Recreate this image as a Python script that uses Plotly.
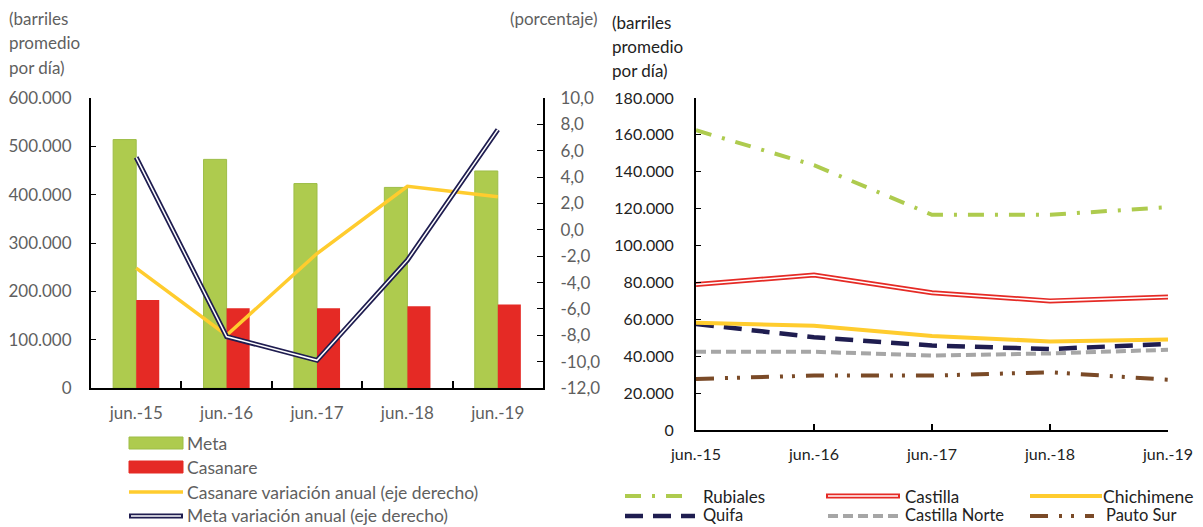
import plotly.graph_objects as go

W, H = 1203, 527

# ---------------- data ----------------
categories = ["jun.-15", "jun.-16", "jun.-17", "jun.-18", "jun.-19"]

meta = [514000, 473000, 423000, 415000, 449000]
casanare = [182000, 165000, 165000, 169000, 173000]
casanare_var = [-2.9, -8.0, -1.8, 3.3, 2.5]
meta_var = [5.5, -8.1, -9.9, -2.3, 7.6]

rubiales = [162500, 143600, 116700, 116700, 120800]
castilla = [78900, 84000, 74400, 70000, 72100]
chichimene = [58200, 56500, 51000, 48000, 49000]
quifa = [57500, 50300, 45800, 43900, 46700]
castilla_norte = [42400, 42400, 40400, 41500, 43500]
pauto_sur = [27700, 29500, 29500, 31300, 27300]

left_ticks = [0, 100000, 200000, 300000, 400000, 500000, 600000]
left_ticktext = ["0", "100.000", "200.000", "300.000", "400.000", "500.000", "600.000"]
pct_ticks = [10, 8, 6, 4, 2, 0, -2, -4, -6, -8, -10, -12]
pct_ticktext = ["10,0", "8,0", "6,0", "4,0", "2,0", "0,0", "-2,0", "-4,0", "-6,0", "-8,0", "-10,0", "-12,0"]
right_ticks = [0, 20000, 40000, 60000, 80000, 100000, 120000, 140000, 160000, 180000]
right_ticktext = ["0", "20.000", "40.000", "60.000", "80.000", "100.000", "120.000", "140.000", "160.000", "180.000"]

# ---------------- styles ----------------
FONT = "Lato"
GREY = "#5f5f5f"
DARK = "#222222"
GREEN = "#AECB4E"
GREEN_EDGE = "#9DBD47"
RED = "#E52A25"
YELLOW = "#FFCC2E"
NAVY = "#1F1D50"
LGREY = "#A6A6A6"
BROWN = "#7A4A27"

RUB_DASH = "16px,11px,3px,11px"
QUIFA_DASH = "18px,10px"
CN_DASH = "10px,5px"
PAUTO_DASH = "18px,11px,3px,9px,3px,11px"


def px(x):
    return x / W


def py(y):
    return 1 - y / H


fig = go.Figure()

# left chart bars
fig.add_trace(go.Bar(x=categories, y=meta, name="Meta", marker=dict(color=GREEN, line=dict(color=GREEN_EDGE, width=1)),
                     xaxis="x", yaxis="y"))
fig.add_trace(go.Bar(x=categories, y=casanare, name="Casanare", marker=dict(color=RED, line=dict(width=0)),
                     xaxis="x", yaxis="y"))
# left chart lines (right axis)
fig.add_trace(go.Scatter(x=categories, y=casanare_var, mode="lines", line=dict(color=YELLOW, width=3.5),
                         xaxis="x", yaxis="y2"))
fig.add_trace(go.Scatter(x=categories, y=meta_var, mode="lines", line=dict(color=NAVY, width=5),
                         xaxis="x", yaxis="y2"))
fig.add_trace(go.Scatter(x=categories, y=meta_var, mode="lines", line=dict(color="white", width=1.5),
                         xaxis="x", yaxis="y2"))

# right chart lines
fig.add_trace(go.Scatter(x=categories, y=pauto_sur, mode="lines", line=dict(color=BROWN, width=4, dash=PAUTO_DASH),
                         xaxis="x3", yaxis="y3"))
fig.add_trace(go.Scatter(x=categories, y=castilla_norte, mode="lines", line=dict(color=LGREY, width=4, dash=CN_DASH),
                         xaxis="x3", yaxis="y3"))
fig.add_trace(go.Scatter(x=categories, y=quifa, mode="lines", line=dict(color=NAVY, width=4.5, dash=QUIFA_DASH),
                         xaxis="x3", yaxis="y3"))
fig.add_trace(go.Scatter(x=categories, y=chichimene, mode="lines", line=dict(color=YELLOW, width=4),
                         xaxis="x3", yaxis="y3"))
fig.add_trace(go.Scatter(x=categories, y=castilla, mode="lines", line=dict(color=RED, width=5),
                         xaxis="x3", yaxis="y3"))
fig.add_trace(go.Scatter(x=categories, y=castilla, mode="lines", line=dict(color="white", width=1.6),
                         xaxis="x3", yaxis="y3"))
fig.add_trace(go.Scatter(x=categories, y=rubiales, mode="lines", line=dict(color=GREEN, width=4, dash=RUB_DASH),
                         xaxis="x3", yaxis="y3"))

tickfont_l = dict(family=FONT, size=17, color=GREY)
tickfont_r = dict(family=FONT, size=16, color=DARK)

fig.update_layout(
    width=W, height=H,
    margin=dict(l=0, r=0, t=0, b=0),
    paper_bgcolor="white", plot_bgcolor="white",
    showlegend=False,
    barmode="group", bargap=0.49, bargroupgap=0.0,
    font=dict(family=FONT, size=16, color=GREY),
    xaxis=dict(domain=[px(91), px(543)], anchor="y", type="category", showline=True, linecolor="black",
               linewidth=2, ticks="inside", tickson="boundaries", ticklen=7, tickcolor="black", tickwidth=1.5,
               showgrid=False, zeroline=False, tickfont=tickfont_l, ticklabelstandoff=9, automargin=False),
    yaxis=dict(domain=[py(388), py(98)], anchor="x", range=[0, 600000], tickvals=left_ticks,
               ticktext=left_ticktext, showline=True, linecolor="black", linewidth=2, ticks="inside",
               ticklen=5, tickcolor="black", showgrid=False, zeroline=False, tickfont=tickfont_l,
               ticklabelstandoff=14, automargin=False),
    yaxis2=dict(overlaying="y", side="right", anchor="x", range=[-12, 10], tickvals=pct_ticks,
                ticktext=pct_ticktext, showline=True, linecolor="black", linewidth=2, ticks="inside",
                ticklen=6, tickcolor="black", showgrid=False, zeroline=False, tickfont=tickfont_l,
                ticklabelstandoff=12, automargin=False),
    xaxis3=dict(domain=[px(696), px(1168)], anchor="y3", type="category", range=[0, 4], showline=True,
                linecolor="black", linewidth=2, ticks="inside", ticklen=6, tickcolor="black", tickwidth=1.5,
                showgrid=False, zeroline=False, tickfont=tickfont_r, ticklabelstandoff=9, automargin=False),
    yaxis3=dict(domain=[py(430), py(98)], anchor="x3", range=[0, 180000], tickvals=right_ticks,
                ticktext=right_ticktext, showline=True, linecolor="black", linewidth=2, ticks="inside",
                ticklen=5, tickcolor="black", showgrid=False, zeroline=False, tickfont=tickfont_r,
                ticklabelstandoff=17, automargin=False),
)

annotations = []


def text(x, y, s, color, size=17, anchor="left"):
    annotations.append(dict(x=px(x), y=py(y), xref="paper", yref="paper", text=s, showarrow=False,
                            xanchor=anchor, yanchor="middle", borderpad=0,
                            font=dict(family=FONT, size=size, color=color)))


# unit labels
for i, s in enumerate(["(barriles", "promedio", "por día)"]):
    text(8, 19 + 24 * i, s, GREY, 17)
text(598, 19, "(porcentaje)", GREY, 17, anchor="right")
for i, s in enumerate(["(barriles", "promedio", "por día)"]):
    text(611, 22 + 24 * i, s, DARK, 17)

shapes = []


def seg(x0, x1, y, color, width, dash="solid"):
    shapes.append(dict(type="line", xref="paper", yref="paper", x0=px(x0), x1=px(x1), y0=py(y), y1=py(y),
                       line=dict(color=color, width=width, dash=dash)))


def rect(x0, x1, y0, y1, color, edge):
    shapes.append(dict(type="rect", xref="paper", yref="paper", x0=px(x0), x1=px(x1), y0=py(y1), y1=py(y0),
                       fillcolor=color, line=dict(color=edge, width=1)))


# left legend
rect(129, 183, 437, 449, GREEN, GREEN_EDGE)
text(186, 443, "Meta", GREY, 17.5)
rect(129, 183, 461, 473, RED, RED)
text(186, 467, "Casanare", GREY, 17.5)
seg(129, 183, 492, YELLOW, 3.5)
text(186, 492, "Casanare variación anual (eje derecho)", GREY, 17.5)
seg(129, 183, 516, NAVY, 5)
seg(131, 181, 516, "white", 1.5)
text(186, 515, "Meta variación anual (eje derecho)", GREY, 17.5)

# right legend
R1, R2 = 496, 516
seg(625, 686, R1, GREEN, 4, RUB_DASH)
text(702, R1, "Rubiales", DARK, 17)
seg(826, 900, R1, RED, 5)
seg(828, 898, R1, "white", 1.6)
text(904, R1, "Castilla", DARK, 17)
seg(1030, 1102, R1, YELLOW, 4)
text(1102, R1, "Chichimene", DARK, 17.5)
seg(625, 695, R2, NAVY, 4.5, QUIFA_DASH)
text(702, R2 - 1, "Quifa", DARK, 16.5)
seg(828, 900, R2, LGREY, 4, CN_DASH)
text(904, R2 - 1, "Castilla Norte", DARK, 16.5)
seg(1030, 1094, R2, BROWN, 4, PAUTO_DASH)
text(1105, R2 - 1, "Pauto Sur", DARK, 16.5)

fig.update_layout(annotations=annotations, shapes=shapes)

fig.write_html("out.html", config={"displayModeBar": False},
               post_script="document.body.style.margin='0';document.body.style.overflow='hidden';")
